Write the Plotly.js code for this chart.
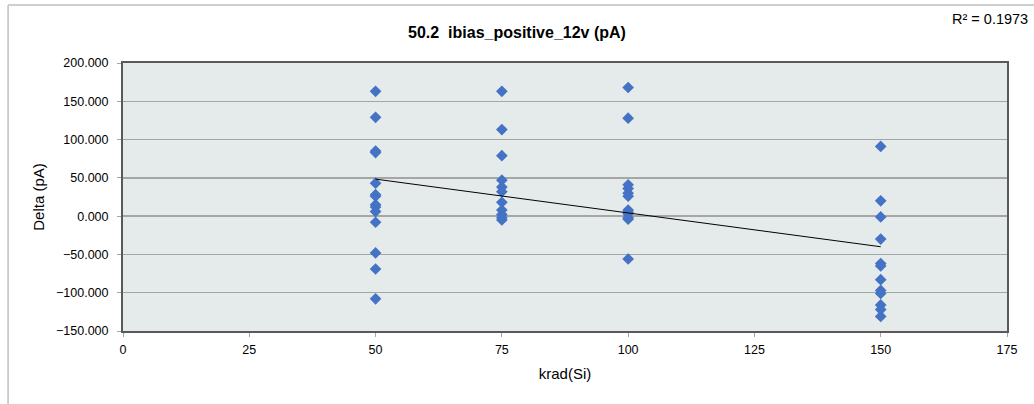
<!DOCTYPE html>
<html>
<head>
<meta charset="utf-8">
<script src="https://cdn.plot.ly/plotly-3.0.1.min.js"></script>
<style>html,body{margin:0;padding:0;background:#fff;}#chart{width:1034px;height:404px;}</style>
</head>
<body>
<div id="chart"></div>
<script>
// Data
const dose50  = [163, 129, 85, 83, 43, 28, 26, 15, 12, 6, -8, -48, -69, -108];
const dose75  = [163, 113, 79, 47, 38, 32, 18, 8, 2, -2, -5];
const dose100 = [168, 128, 41, 36, 30, 26, 8, 5, 3, -2, -4, -56];
const dose150 = [91, 20, -1, -30, -62, -65, -83, -97, -101, -116, -122, -131];
const doseLevels = [50, 75, 100, 150];
const seriesByDose = [dose50, dose75, dose100, dose150];
const titleText = "50.2  ibias_positive_12v (pA)";
const xTitle = "krad(Si)";
const yTitle = "Delta (pA)";
const r2Text = "R\u00B2 = 0.1973";

const xs = [], ys = [];
seriesByDose.forEach((arr, i) => arr.forEach(v => { xs.push(doseLevels[i]); ys.push(v); }));

// least-squares trendline computed from the data
const n = xs.length;
const mx = xs.reduce((a,b)=>a+b,0)/n, my = ys.reduce((a,b)=>a+b,0)/n;
let sxy = 0, sxx = 0;
for (let i=0;i<n;i++){ sxy += (xs[i]-mx)*(ys[i]-my); sxx += (xs[i]-mx)*(xs[i]-mx); }
const slope = sxy/sxx, icpt = my - slope*mx;
const xmin = Math.min(...xs), xmax = Math.max(...xs);

const fontFam = "Liberation Sans, Arial, sans-serif";
const traces = [
  {x: xs, y: ys, type: 'scatter', mode: 'markers',
   marker: {symbol: 'diamond', size: 9, color: '#4472C4'}, hoverinfo: 'x+y'},
  {x: [xmin, xmax], y: [icpt + slope*xmin, icpt + slope*xmax], type: 'scatter', mode: 'lines',
   line: {color: '#000000', width: 1}}
];

const layout = {
  width: 1034, height: 404,
  margin: {l: 123, r: 27, t: 63, b: 73, pad: 0},
  paper_bgcolor: '#ffffff',
  plot_bgcolor: '#E5EBEB',
  showlegend: false,
  font: {family: fontFam, size: 12, color: '#000'},
  title: {text: '<b>' + titleText + '</b>', font: {family: fontFam, size: 16, color: '#000'},
          x: 0.5, xanchor: 'center', y: 0.92, yanchor: 'middle'},
  xaxis: {range: [0, 175], dtick: 25, tick0: 0, showgrid: false, zeroline: false,
          showline: true, linecolor: '#595959', linewidth: 2, mirror: true,
          ticks: 'outside', ticklen: 4, tickcolor: '#a6a6a6', ticklabelstandoff: 2,
          tickfont: {family: fontFam, size: 12.5, color: '#000'},
          title: {text: xTitle, font: {family: fontFam, size: 15, color: '#000'}, standoff: 12}},
  yaxis: {range: [-150, 200], dtick: 50, tick0: 0, tickformat: '.3f',
          showgrid: true, gridcolor: '#a6a6a6', gridwidth: 1.5, zeroline: false,
          showline: true, linecolor: '#595959', linewidth: 2, mirror: true,
          ticks: 'outside', ticklen: 4, tickcolor: '#a6a6a6', ticklabelstandoff: 6,
          tickfont: {family: fontFam, size: 12.5, color: '#000'},
          title: {text: yTitle, font: {family: fontFam, size: 15, color: '#000'}, standoff: 8}},
  annotations: [
    {text: r2Text, xref: 'paper', yref: 'paper', x: 1.026, y: 1.165, xanchor: 'right', yanchor: 'middle',
     showarrow: false, font: {family: fontFam, size: 14.5, color: '#000'}}
  ],
  shapes: [
    {type: 'line', xref: 'paper', yref: 'paper', x0: -0.130, x1: 1.04, y0: 1.216, y1: 1.216,
     line: {color: '#bfbfbf', width: 1.5}},
    {type: 'line', xref: 'paper', yref: 'paper', x0: -0.130, x1: -0.130, y0: 1.216, y1: -0.3,
     line: {color: '#bfbfbf', width: 1.5}}
  ]
};

Plotly.newPlot('chart', traces, layout, {displayModeBar: false, staticPlot: true});
</script>
</body>
</html>
